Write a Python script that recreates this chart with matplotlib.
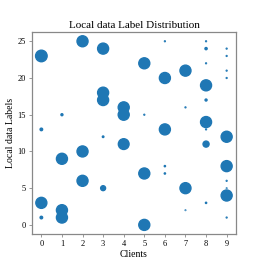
import matplotlib
matplotlib.use('Agg')
import matplotlib.pyplot as plt

# client id, label id, number of samples of that label held by the client
clients = [0, 0, 0, 0,
           1, 1, 1, 1,
           2, 2, 2,
           3, 3, 3, 3, 3,
           4, 4, 4,
           5, 5, 5, 5,
           6, 6, 6, 6, 6,
           7, 7, 7, 7,
           8, 8, 8, 8, 8, 8, 8, 8, 8,
           9, 9, 9, 9, 9, 9, 9, 9, 9, 9]
labels = [23, 3, 13, 1,
          9, 2, 1, 15,
          25, 10, 6,
          24, 18, 17, 12, 5,
          16, 15, 11,
          22, 7, 0, 15,
          20, 13, 25, 8, 7,
          21, 5, 16, 2,
          19, 14, 11, 24, 17, 25, 22, 13, 3,
          12, 8, 4, 24, 23, 21, 20, 6, 5, 1]
counts = [330, 300, 16, 16,
          300, 300, 300, 10,
          300, 300, 300,
          300, 300, 300, 6, 60,
          300, 300, 285,
          300, 300, 300, 2,
          300, 300, 2, 4, 4,
          300, 300, 2, 1,
          300, 300, 90, 12, 10, 2, 2, 2, 4,
          300, 300, 300, 2, 2, 2, 2, 2, 1, 2]

plt.rcParams['font.family'] = ['Liberation Serif', 'DejaVu Serif']

fig = plt.figure(figsize=(2.63, 2.63), dpi=100)
ax = fig.add_axes([0.122, 0.110, 0.775, 0.768])
ax.scatter(clients, labels, s=[c * 0.21 for c in counts], color='#1f77b4')
ax.set_xticks(range(10))
ax.set_yticks([0, 5, 10, 15, 20, 25])
ax.tick_params(labelsize=6, length=2.5, width=0.6, color='#888888', pad=2)
for sp in ax.spines.values():
    sp.set_color('#888888')
    sp.set_linewidth(0.9)
ax.set_title('Local data Label Distribution', fontsize=8, pad=3)
ax.set_xlabel('Clients', fontsize=7, labelpad=1)
ax.set_ylabel('Local data Labels', fontsize=7, labelpad=2)
fig.savefig('out.png', dpi=100)
